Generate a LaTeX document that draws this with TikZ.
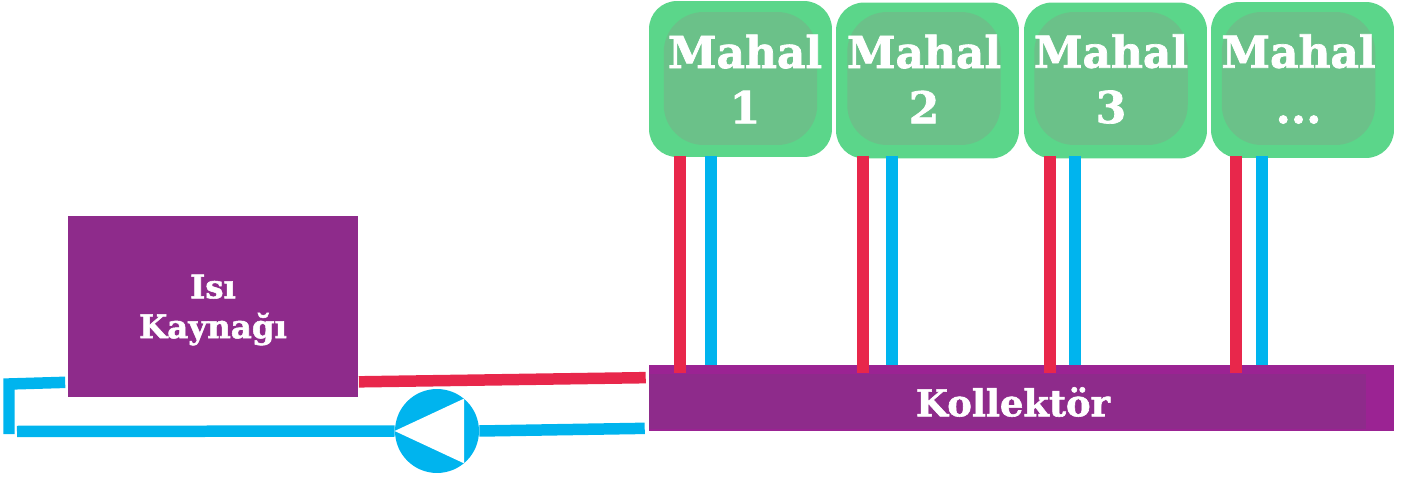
\documentclass[tikz,border=0pt]{standalone}
\usepackage{fontspec}
\setmainfont[BoldFont={DejaVu Serif Bold},BoldFeatures={FakeBold=1.6}]{DejaVu Serif}
\definecolor{odaDis}{HTML}{5BD68A}
\definecolor{odaIc}{HTML}{6BC189}
\definecolor{mor}{HTML}{8E2B8B}
\definecolor{morAcik}{HTML}{9B2393}
\definecolor{sicak}{HTML}{E8274B}
\definecolor{soguk}{HTML}{00B4EE}
\newcommand{\noktalar}{...}
\tikzset{
	odadis/.style={fill=odaDis,rounded corners=.56cm,minimum width=3.66cm,minimum height=3.12cm,inner sep=0},
	odaic/.style={fill=odaIc,rounded corners=.8cm,minimum width=3.07cm,minimum height=2.66cm,inner sep=0},
	yazi/.style={text=white,align=center,inner sep=0},
	sicakboru/.style={draw=sicak,line width=.23cm},
	sogukboru/.style={draw=soguk,line width=.23cm},
}
\begin{document}
\begin{tikzpicture}[x=.02cm,y=-.02cm]
	\useasboundingbox (0,0) rectangle (1413,479);
	\node[fill=mor,minimum width=5.82cm,minimum height=3.62cm,inner sep=0] (kaynak) at (213,306.5) {};
	\node[yazi,font=\fontsize{18.5}{22.7}\selectfont\bfseries] (kaynakyazi) at (213,310) {Is\i\\Kayna\u{g}\i};
	\node[fill=morAcik,minimum width=14.9cm,minimum height=1.32cm,inner sep=0] (kollektor) at (1021.5,398) {};
	\node[fill=mor,minimum width=14.34cm,minimum height=1.1cm,inner sep=0] (kolic) at (1007.5,401.5) {};
	\node[yazi,font=\fontsize{21}{25}\selectfont\bfseries] (kolyazi) at (1013,402) {Kollekt\"or};
	\node[circle,fill=soguk,minimum size=1.68cm,inner sep=0] (pompa) at (437,431) {};
	\fill[white] (pompa.180) -- (pompa.50) -- (pompa.-50) -- cycle;
	% boiler loop
	\draw[sicakboru] ([shift={(0,-15.5)}]kaynak.south east) -- ([shift={(-3,13)}]kollektor.north west);
	\draw[sogukboru] ([shift={(-2,-15)}]kaynak.south west) -- (9,384) -- (9,434);
	\draw[sogukboru] (17,431.5) -- (pompa.180);
	\draw[sogukboru] (pompa.0) -- ([shift={(-4,-3)}]kollektor.south west);
	% rooms
	\foreach \n/\t/\xa/\ya/\xb/\xy/\xr/\xs in {1/1/740.5/79/740.5/745/680/711,2/2/927.5/80.5/924/924/863/892,3/3/1115.5/80.5/1111/1111/1050/1075,4/\noktalar/1302.5/80/1298.5/1298.5/1236/1262}{
		\node[odadis] (oda\n) at (\xa,\ya) {};
		\node[odaic] (ic\n) at (\xb,78.5) {};
		\node[yazi,font=\fontsize{25}{31.5}\selectfont\bfseries] (yazi\n) at (\xy,79) {Mahal\\\t};
		\draw[sicakboru] (\xr,156) coordinate (s\n) -- (s\n |- kollektor.north) -- ++(0,8);
		\draw[sogukboru] (\xs,156) coordinate (g\n) -- (g\n |- kollektor.north);
	}
\end{tikzpicture}
\end{document}
